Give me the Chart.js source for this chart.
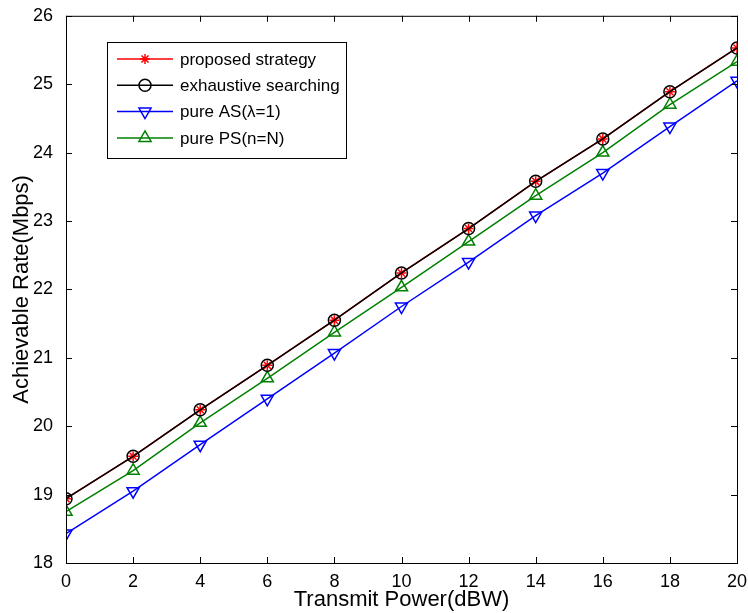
<!DOCTYPE html>
<html>
<head>
<meta charset="utf-8">
<script src="https://cdn.jsdelivr.net/npm/chart.js@4"></script>
<style>
  body { margin: 0; background: #fff; }
  #wrap { width: 748px; height: 613px; }
</style>
</head>
<body>
<div id="wrap"><canvas id="rate-chart"></canvas></div>
<script>
var powers = [0, 2, 4, 6, 8, 10, 12, 14, 16, 18, 20];
var proposed = [18.94, 19.56, 20.24, 20.89, 21.55, 22.24, 22.89, 23.58, 24.2, 24.89, 25.53];
var exhaustive = [18.94, 19.56, 20.24, 20.89, 21.55, 22.24, 22.89, 23.58, 24.2, 24.89, 25.53];
var pureAS = [18.43, 19.05, 19.73, 20.4, 21.07, 21.75, 22.4, 23.08, 23.7, 24.38, 25.05];
var purePS = [18.75, 19.35, 20.05, 20.7, 21.37, 22.03, 22.7, 23.37, 24.0, 24.7, 25.33];
var seriesNames = ['proposed strategy', 'exhaustive searching', 'pure AS(\u03bb=1)', 'pure PS(n=N)'];

var fontFam = '"Liberation Sans", Arial, sans-serif';

function pts(vals) {
  return vals.map(function (v, i) { return { x: powers[i], y: v }; });
}

// matlab style frame, inward ticks and legend box inside the axes
var matlabAxes = {
  id: 'matlabAxes',
  afterDraw: function (chart) {
    var c = chart.ctx, a = chart.chartArea;
    var xs = chart.scales.x, ys = chart.scales.y;
    c.save();
    c.strokeStyle = '#000';
    c.lineWidth = 1;
    c.strokeRect(a.left + 0.5, a.top + 0.5, a.right - a.left, a.bottom - a.top);
    xs.ticks.forEach(function (t) {
      var px = Math.round(xs.getPixelForValue(t.value)) + 0.5;
      c.beginPath();
      c.moveTo(px, a.bottom); c.lineTo(px, a.bottom - 6);
      c.moveTo(px, a.top); c.lineTo(px, a.top + 6);
      c.stroke();
    });
    ys.ticks.forEach(function (t) {
      var py = Math.round(ys.getPixelForValue(t.value)) + 0.5;
      c.beginPath();
      c.moveTo(a.left, py); c.lineTo(a.left + 6, py);
      c.moveTo(a.right, py); c.lineTo(a.right - 6, py);
      c.stroke();
    });

    // legend
    var bx = 107, by = 42, bw = 239, bh = 116;
    c.fillStyle = '#fff';
    c.fillRect(bx, by, bw, bh);
    c.strokeRect(bx + 0.5, by + 0.5, bw, bh);
    c.font = '17px ' + fontFam;
    c.textBaseline = 'middle';
    chart.data.datasets.forEach(function (ds, i) {
      var yy = 59 + i * 26.3;
      c.strokeStyle = ds.borderColor;
      c.lineWidth = 1.5;
      c.beginPath();
      c.moveTo(117, yy); c.lineTo(173, yy);
      c.stroke();
      c.fillStyle = 'rgba(0,0,0,0)';
      Chart.helpers.drawPoint(c, {
        pointStyle: ds.pointStyle,
        rotation: ds.pointRotation || 0,
        radius: ds.pointRadius,
        borderWidth: ds.pointBorderWidth
      }, 145, yy);
      c.fillStyle = '#000';
      c.fillText(seriesNames[i], 180, yy + 1);
    });
    c.restore();
  }
};

var ctx = document.getElementById('rate-chart').getContext('2d');
var chart = new Chart(ctx, {
  type: 'line',
  data: {
    datasets: [
      {
        label: seriesNames[0],
        data: pts(proposed),
        borderColor: '#ff0000',
        backgroundColor: 'rgba(0,0,0,0)',
        borderWidth: 1.5,
        pointStyle: 'star',
        pointRadius: 5,
        pointBorderWidth: 1.5,
        order: 2
      },
      {
        label: seriesNames[1],
        data: pts(exhaustive),
        borderColor: '#000000',
        backgroundColor: 'rgba(0,0,0,0)',
        borderWidth: 1.5,
        pointStyle: 'circle',
        pointRadius: 6,
        pointBorderWidth: 1.5,
        order: 1
      },
      {
        label: seriesNames[2],
        data: pts(pureAS),
        borderColor: '#0000ff',
        backgroundColor: 'rgba(0,0,0,0)',
        borderWidth: 1.5,
        pointStyle: 'triangle',
        pointRotation: 180,
        pointRadius: 7,
        pointBorderWidth: 1.5,
        order: 3
      },
      {
        label: seriesNames[3],
        data: pts(purePS),
        borderColor: '#008000',
        backgroundColor: 'rgba(0,0,0,0)',
        borderWidth: 1.5,
        pointStyle: 'triangle',
        pointRadius: 7,
        pointBorderWidth: 1.5,
        order: 4
      }
    ]
  },
  options: {
    responsive: true,
    maintainAspectRatio: false,
    animation: false,
    layout: { padding: { top: 14, right: 11, left: 0, bottom: 0 } },
    plugins: {
      legend: { display: false },
      tooltip: { enabled: false }
    },
    scales: {
      x: {
        type: 'linear',
        min: 0,
        max: 20,
        afterFit: function (s) { s.height = 50; },
        ticks: {
          stepSize: 2,
          color: '#000',
          padding: 0,
          font: { size: 18, family: fontFam }
        },
        grid: { display: false },
        border: { display: false },
        title: {
          display: true,
          text: 'Transmit Power(dBW)',
          color: '#000',
          padding: { top: 0, bottom: 0 },
          font: { size: 22, family: fontFam }
        }
      },
      y: {
        min: 18,
        max: 26,
        afterFit: function (s) { s.width = 66; },
        ticks: {
          stepSize: 1,
          color: '#000',
          padding: 5,
          font: { size: 18, family: fontFam }
        },
        grid: { display: false },
        border: { display: false },
        title: {
          display: true,
          text: 'Achievable Rate(Mbps)',
          color: '#000',
          padding: { top: 9, bottom: 0 },
          font: { size: 22, family: fontFam }
        }
      }
    }
  },
  plugins: [matlabAxes]
});
</script>
</body>
</html>
